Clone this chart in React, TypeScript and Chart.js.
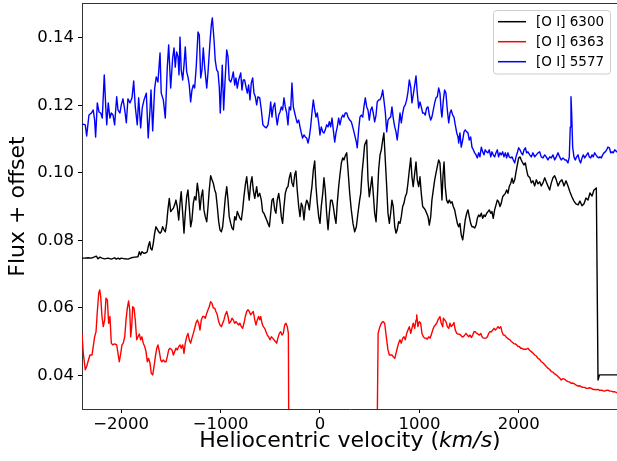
import { useEffect, useRef } from "react";
import { Chart, registerables } from "chart.js";

Chart.register(...registerables);

const FONT = "'DejaVu Sans', sans-serif";

const seriesLabels = ["[O I] 6300", "[O I] 6363", "[O I] 5577"];
const seriesColors = ["#000000", "#ff0000", "#0000ff"];
const xTickValues = [-2000, -1000, 0, 1000, 2000];
const yTickValues = [0.04, 0.06, 0.08, 0.1, 0.12, 0.14];
const xRange = [-2394, 2998];
const yRange = [0.03, 0.15];

// [O I] 6300 (black)
const vel6300 = [
  -2394, -2367, -2334, -2300, -2274, -2250, -2233, -2214, -2193, -2166,
  -2133, -2099, -2066, -2049, -2032, -2015, -1999, -1964, -1932, -1898,
  -1864, -1831, -1817, -1804, -1791, -1770, -1750, -1738, -1724, -1713,
  -1703, -1690, -1677, -1663, -1650, -1637, -1622, -1609, -1597, -1583,
  -1569, -1556, -1542, -1530, -1516, -1502, -1489, -1475, -1462, -1449,
  -1436, -1421, -1408, -1396, -1381, -1368, -1355, -1341, -1328, -1315,
  -1301, -1288, -1274, -1261, -1248, -1234, -1220, -1207, -1194, -1180,
  -1167, -1154, -1139, -1126, -1114, -1100, -1086, -1073, -1059, -1047,
  -1033, -1019, -1006, -992, -979, -966, -953, -938, -925, -913,
  -898, -885, -872, -858, -845, -832, -818, -805, -791, -778,
  -765, -751, -737, -724, -712, -697, -684, -671, -656, -637,
  -624, -606, -590, -577, -564, -550, -536, -523, -509, -496,
  -483, -470, -455, -443, -430, -415, -402, -389, -376, -362,
  -349, -335, -322, -309, -295, -282, -268, -254, -242, -229,
  -214, -201, -188, -175, -161, -148, -134, -120, -107, -94,
  -81, -67, -53, -40, -27, -13, 0, 13, 28, 40,
  53, 67, 81, 94, 107, 121, 134, 148, 161, 174,
  188, 201, 215, 229, 241, 254, 269, 282, 299, 315,
  332, 349, 366, 382, 399, 410, 423, 436, 449, 470,
  483, 496, 510, 523, 536, 550, 564, 576, 590, 604,
  617, 631, 643, 657, 671, 684, 698, 711, 724, 737,
  752, 765, 777, 791, 805, 818, 832, 845, 858, 872,
  885, 899, 913, 925, 938, 953, 966, 979, 993, 1006,
  1019, 1033, 1047, 1059, 1073, 1087, 1100, 1114, 1126, 1140,
  1154, 1167, 1180, 1194, 1207, 1220, 1227, 1238, 1248, 1260,
  1274, 1288, 1301, 1315, 1328, 1341, 1355, 1368, 1382, 1395,
  1408, 1421, 1436, 1449, 1461, 1476, 1489, 1502, 1516, 1529,
  1542, 1556, 1570, 1583, 1596, 1609, 1623, 1637, 1650, 1662,
  1677, 1690, 1703, 1718, 1730, 1743, 1757, 1771, 1784, 1797,
  1811, 1824, 1838, 1851, 1865, 1878, 1891, 1904, 1919, 1932,
  1945, 1959, 1972, 1985, 1999, 2012, 2025, 2039, 2053, 2066,
  2079, 2092, 2112, 2126, 2142, 2160, 2176, 2193, 2210, 2226,
  2243, 2261, 2276, 2293, 2311, 2327, 2344, 2361, 2377, 2395,
  2414, 2434, 2455, 2475, 2495, 2515, 2535, 2555, 2575, 2596,
  2615, 2636, 2656, 2676, 2696, 2716, 2737, 2756, 2771, 2780,
  2797, 2812, 2998,
];
const flux6300 = [
  0.0747, 0.0747, 0.0748, 0.0747, 0.075, 0.0753, 0.0745, 0.075, 0.0747, 0.0745,
  0.0747, 0.0744, 0.0748, 0.0744, 0.0747, 0.0744, 0.0747, 0.0745, 0.0744, 0.0748,
  0.075, 0.0751, 0.0766, 0.0756, 0.0766, 0.0761, 0.0763, 0.0766, 0.0786, 0.0796,
  0.0776, 0.0771, 0.0791, 0.0821, 0.084, 0.0833, 0.0825, 0.0821, 0.0825, 0.084,
  0.0831, 0.0825, 0.085, 0.089, 0.0924, 0.0885, 0.089, 0.0895, 0.0905, 0.0919,
  0.09, 0.086, 0.091, 0.0944, 0.088, 0.0821, 0.088, 0.0929, 0.0949, 0.09,
  0.084, 0.086, 0.091, 0.0929, 0.0919, 0.0969, 0.0939, 0.089, 0.0929, 0.0949,
  0.089, 0.087, 0.0855, 0.09, 0.0949, 0.0991, 0.0979, 0.0969, 0.0949, 0.0939,
  0.09, 0.0855, 0.0831, 0.0825, 0.084, 0.088, 0.0924, 0.0959, 0.0919, 0.087,
  0.085, 0.0836, 0.0831, 0.087, 0.086, 0.0885, 0.0875, 0.0865, 0.086, 0.089,
  0.0929, 0.0964, 0.0988, 0.0949, 0.0919, 0.0969, 0.0988, 0.0949, 0.0924, 0.0959,
  0.0929, 0.0939, 0.0919, 0.0885, 0.088, 0.087, 0.086, 0.085, 0.084, 0.088,
  0.0919, 0.0924, 0.089, 0.088, 0.0919, 0.0939, 0.091, 0.087, 0.085, 0.09,
  0.0939, 0.0954, 0.0959, 0.0985, 0.1, 0.097, 0.0959, 0.0994, 0.1005, 0.0949,
  0.09, 0.087, 0.091, 0.09, 0.086, 0.09, 0.0919, 0.091, 0.089, 0.0929,
  0.0959, 0.1008, 0.1035, 0.0959, 0.091, 0.087, 0.085, 0.09, 0.0939, 0.0985,
  0.0949, 0.088, 0.0831, 0.088, 0.0919, 0.0919, 0.09, 0.087, 0.085, 0.091,
  0.0959, 0.0994, 0.1029, 0.1044, 0.1038, 0.105, 0.1059, 0.1008, 0.0939, 0.089,
  0.085, 0.0825, 0.084, 0.088, 0.0919, 0.0939, 0.0999, 0.1038, 0.1082, 0.1097,
  0.0979, 0.0929, 0.0959, 0.0988, 0.0939, 0.088, 0.0855, 0.0919, 0.1008, 0.1053,
  0.1068, 0.1097, 0.1118, 0.1038, 0.0959, 0.088, 0.085, 0.088, 0.0919, 0.09,
  0.084, 0.0821, 0.0831, 0.0855, 0.085, 0.087, 0.09, 0.091, 0.0929, 0.0939,
  0.0969, 0.1008, 0.1044, 0.0988, 0.0959, 0.0999, 0.1032, 0.0979, 0.0959, 0.0988,
  0.0939, 0.09, 0.0895, 0.089, 0.088, 0.087, 0.0845, 0.087, 0.0919, 0.0949,
  0.0979, 0.0999, 0.1018, 0.1038, 0.1029, 0.0964, 0.0919, 0.0994, 0.1032, 0.0959,
  0.0919, 0.091, 0.0919, 0.091, 0.0914, 0.09, 0.089, 0.087, 0.085, 0.084,
  0.085, 0.0816, 0.0801, 0.0831, 0.086, 0.088, 0.089, 0.087, 0.085, 0.084,
  0.084, 0.0836, 0.0845, 0.0865, 0.0875, 0.087, 0.088, 0.0865, 0.0875, 0.087,
  0.088, 0.0885, 0.089, 0.088, 0.0885, 0.0865, 0.089, 0.0905, 0.0919, 0.0914,
  0.09, 0.091, 0.0929, 0.0934, 0.0939, 0.0949, 0.0939, 0.0959, 0.0969, 0.0984,
  0.0969, 0.0979, 0.1002, 0.1023, 0.1044, 0.1047, 0.1038, 0.1029, 0.1023, 0.1029,
  0.1008, 0.0991, 0.0985, 0.097, 0.0976, 0.0961, 0.0979, 0.0967, 0.0973, 0.0961,
  0.097, 0.0985, 0.0973, 0.0961, 0.0949, 0.097, 0.0985, 0.0991, 0.0979, 0.0961,
  0.0973, 0.0979, 0.0961, 0.0976, 0.0961, 0.0943, 0.0928, 0.0916, 0.0908, 0.0905,
  0.0916, 0.0902, 0.0908, 0.0925, 0.0919, 0.094, 0.0931, 0.0949, 0.0952, 0.0955,
  0.0386, 0.0401, 0.0401,
];

// [O I] 6363 (red)
const vel6363 = [
  -2394, -2381, -2361, -2347, -2334, -2314, -2293, -2281, -2267, -2253,
  -2240, -2226, -2216, -2206, -2193, -2180, -2166, -2153, -2139, -2126,
  -2113, -2099, -2086, -2066, -2045, -2032, -2019, -2004, -1992, -1979,
  -1964, -1951, -1938, -1925, -1914, -1904, -1894, -1884, -1871, -1858,
  -1844, -1831, -1817, -1804, -1791, -1778, -1763, -1750, -1737, -1724,
  -1710, -1697, -1683, -1669, -1656, -1642, -1630, -1616, -1602, -1590,
  -1576, -1562, -1549, -1536, -1522, -1509, -1489, -1475, -1462, -1449,
  -1436, -1421, -1408, -1396, -1381, -1368, -1355, -1341, -1328, -1315,
  -1301, -1288, -1274, -1261, -1248, -1234, -1220, -1207, -1194, -1180,
  -1167, -1154, -1139, -1126, -1114, -1100, -1086, -1073, -1059, -1047,
  -1033, -1019, -1006, -992, -979, -966, -953, -938, -925, -913,
  -898, -885, -872, -858, -845, -832, -818, -805, -791, -778,
  -765, -751, -737, -724, -712, -697, -684, -671, -656, -644,
  -631, -617, -606, -596, -583, -570, -556, -543, -530, -517,
  -503, -489, -476, -462, -449, -436, -423, -409, -395, -382,
  -369, -355, -342, -329, -318, -311, 567, 585, 603, 617,
  634, 651, 667, 684, 698, 711, 724, 737, 752, 765,
  777, 791, 805, 818, 832, 845, 858, 872, 885, 899,
  913, 925, 938, 953, 966, 973, 985, 999, 1013, 1026,
  1040, 1053, 1066, 1079, 1094, 1107, 1119, 1134, 1147, 1160,
  1174, 1187, 1207, 1220, 1235, 1241, 1254, 1267, 1281, 1295,
  1308, 1320, 1335, 1348, 1361, 1376, 1389, 1402, 1416, 1429,
  1442, 1456, 1469, 1483, 1496, 1509, 1523, 1537, 1549, 1562,
  1577, 1590, 1603, 1618, 1630, 1643, 1657, 1671, 1684, 1697,
  1710, 1724, 1738, 1751, 1765, 1779, 1791, 1804, 1819, 1831,
  1844, 1859, 1871, 1884, 1898, 1912, 1925, 1939, 1952, 1965,
  1979, 1992, 2005, 2019, 2032, 2045, 2059, 2072, 2092, 2109,
  2126, 2142, 2160, 2176, 2193, 2210, 2226, 2243, 2261, 2276,
  2293, 2311, 2327, 2344, 2361, 2377, 2395, 2411, 2427, 2445,
  2462, 2477, 2495, 2512, 2528, 2545, 2562, 2578, 2596, 2612,
  2628, 2646, 2663, 2679, 2696, 2712, 2730, 2746, 2763, 2780,
  2797, 2813, 2830, 2847, 2864, 2881, 2897, 2914, 2931, 2948,
  2965, 2982, 2998,
];
const flux6363 = [
  0.0524, 0.0465, 0.0416, 0.0426, 0.044, 0.046, 0.046, 0.0485, 0.0514, 0.0529,
  0.0588, 0.0643, 0.0653, 0.0633, 0.0574, 0.0544, 0.0564, 0.0628, 0.0623, 0.0554,
  0.0574, 0.0495, 0.049, 0.0493, 0.049, 0.0465, 0.044, 0.0465, 0.049, 0.0495,
  0.0514, 0.0564, 0.0599, 0.062, 0.0594, 0.0514, 0.0544, 0.0603, 0.0599, 0.0564,
  0.0505, 0.0514, 0.0522, 0.0505, 0.0514, 0.0495, 0.0485, 0.047, 0.044, 0.045,
  0.0436, 0.0406, 0.0401, 0.0426, 0.0455, 0.048, 0.049, 0.047, 0.0445, 0.044,
  0.0445, 0.044, 0.044, 0.0455, 0.0475, 0.048, 0.0475, 0.046, 0.047, 0.048,
  0.0475, 0.0485, 0.049, 0.048, 0.049, 0.0465, 0.0495, 0.0514, 0.0524, 0.0505,
  0.0495, 0.051, 0.0524, 0.0539, 0.0554, 0.0564, 0.0554, 0.0534, 0.0564, 0.0574,
  0.0574, 0.0569, 0.0584, 0.0594, 0.0603, 0.0618, 0.0613, 0.0599, 0.0599, 0.0589,
  0.0579, 0.0559, 0.0549, 0.0544, 0.0554, 0.0564, 0.0579, 0.0589, 0.0574, 0.0554,
  0.0559, 0.0569, 0.0564, 0.0554, 0.0559, 0.0554, 0.0549, 0.0554, 0.0544, 0.0539,
  0.0554, 0.0574, 0.0589, 0.0594, 0.0589, 0.0579, 0.0584, 0.0589, 0.0564, 0.0549,
  0.0564, 0.0574, 0.0564, 0.0574, 0.0554, 0.0544, 0.0539, 0.0529, 0.0519, 0.0514,
  0.0505, 0.0514, 0.051, 0.0505, 0.05, 0.0495, 0.051, 0.0524, 0.0529, 0.0519,
  0.0524, 0.0549, 0.0554, 0.0544, 0.0524, 0.0, 0.0, 0.0524, 0.0544, 0.0554,
  0.0559, 0.0554, 0.0514, 0.0475, 0.046, 0.046, 0.046, 0.0455, 0.045, 0.0465,
  0.048, 0.0495, 0.0505, 0.0495, 0.051, 0.0514, 0.0505, 0.0524, 0.0534, 0.0544,
  0.0524, 0.0539, 0.0554, 0.0539, 0.0564, 0.0579, 0.0544, 0.0559, 0.0554, 0.0524,
  0.0514, 0.051, 0.051, 0.0507, 0.0514, 0.051, 0.0519, 0.0534, 0.0544, 0.0549,
  0.0554, 0.0564, 0.0574, 0.0554, 0.0544, 0.0569, 0.0564, 0.0559, 0.0544, 0.0539,
  0.0554, 0.0544, 0.0549, 0.0556, 0.0534, 0.0524, 0.0522, 0.0522, 0.0519, 0.0514,
  0.0514, 0.0519, 0.0524, 0.0519, 0.0514, 0.0519, 0.0512, 0.0519, 0.0529, 0.0529,
  0.0524, 0.0522, 0.0519, 0.0524, 0.0514, 0.051, 0.051, 0.051, 0.0514, 0.0524,
  0.0529, 0.0529, 0.0534, 0.0539, 0.0534, 0.0539, 0.0544, 0.0539, 0.0544, 0.0529,
  0.0519, 0.0519, 0.0514, 0.051, 0.0507, 0.0505, 0.05, 0.0497, 0.0493, 0.0493,
  0.049, 0.0485, 0.0485, 0.048, 0.048, 0.0477, 0.0477, 0.0477, 0.048, 0.0474,
  0.047, 0.0466, 0.046, 0.0457, 0.045, 0.0447, 0.044, 0.0437, 0.0431, 0.0426,
  0.0421, 0.0417, 0.0411, 0.0409, 0.0404, 0.0401, 0.0396, 0.0392, 0.0386, 0.039,
  0.0388, 0.0384, 0.0381, 0.038, 0.0376, 0.0377, 0.0374, 0.0371, 0.0368, 0.0369,
  0.0366, 0.0364, 0.0364, 0.0361, 0.0361, 0.0363, 0.0361, 0.0358, 0.0358, 0.0357,
  0.0358, 0.0355, 0.0356, 0.0354, 0.0353, 0.0355, 0.0356, 0.0353, 0.0353, 0.0351,
  0.0351, 0.0349, 0.0348,
];

// [O I] 5577 (blue)
const vel5577 = [
  -2394, -2361, -2347, -2324, -2300, -2281, -2267, -2257, -2240, -2223,
  -2206, -2190, -2170, -2155, -2145, -2130, -2113, -2099, -2082, -2066,
  -2045, -2032, -2012, -1999, -1982, -1964, -1948, -1932, -1911, -1891,
  -1874, -1858, -1838, -1824, -1804, -1788, -1770, -1747, -1728, -1710,
  -1700, -1683, -1663, -1647, -1630, -1609, -1597, -1576, -1556, -1536,
  -1522, -1502, -1482, -1468, -1456, -1442, -1428, -1418, -1408, -1396,
  -1381, -1368, -1355, -1341, -1328, -1315, -1301, -1288, -1274, -1261,
  -1245, -1227, -1214, -1200, -1187, -1174, -1160, -1139, -1126, -1107,
  -1093, -1083, -1066, -1054, -1039, -1026, -1013, -1003, -992, -983,
  -969, -956, -938, -925, -913, -898, -885, -872, -858, -845,
  -832, -818, -797, -785, -772, -758, -744, -731, -718, -704,
  -691, -677, -664, -650, -637, -624, -606, -590, -574, -556,
  -540, -523, -506, -496, -483, -470, -455, -443, -430, -415,
  -402, -389, -376, -362, -349, -335, -322, -309, -295, -282,
  -268, -254, -242, -229, -214, -201, -188, -175, -161, -148,
  -134, -120, -107, -94, -81, -67, -53, -40, -27, -13,
  0, 13, 28, 40, 53, 67, 81, 94, 107, 121,
  134, 148, 161, 174, 188, 201, 215, 229, 241, 254,
  269, 282, 299, 315, 332, 349, 366, 375, 389, 402,
  416, 430, 442, 456, 470, 483, 496, 510, 523, 536,
  550, 564, 576, 590, 604, 617, 631, 643, 657, 671,
  684, 698, 711, 724, 737, 752, 765, 777, 791, 805,
  818, 832, 845, 858, 872, 885, 899, 913, 925, 938,
  953, 966, 979, 993, 1006, 1019, 1033, 1047, 1059, 1073,
  1087, 1100, 1114, 1126, 1140, 1154, 1167, 1180, 1194, 1207,
  1220, 1227, 1241, 1254, 1267, 1281, 1295, 1308, 1320, 1335,
  1348, 1361, 1376, 1389, 1395, 1408, 1421, 1436, 1449, 1461,
  1476, 1489, 1502, 1516, 1529, 1542, 1556, 1570, 1583, 1596,
  1609, 1623, 1637, 1650, 1662, 1677, 1690, 1703, 1718, 1730,
  1743, 1757, 1771, 1784, 1797, 1811, 1824, 1838, 1851, 1865,
  1878, 1891, 1904, 1919, 1932, 1945, 1959, 1972, 1985, 1999,
  2012, 2025, 2039, 2053, 2066, 2079, 2092, 2110, 2126, 2142,
  2160, 2176, 2193, 2210, 2226, 2243, 2261, 2276, 2293, 2311,
  2327, 2344, 2361, 2377, 2395, 2411, 2427, 2445, 2462, 2477,
  2495, 2508, 2518, 2525, 2532, 2542, 2555, 2568, 2582, 2596,
  2609, 2622, 2636, 2649, 2663, 2683, 2696, 2709, 2723, 2737,
  2749, 2763, 2776, 2790, 2804, 2816, 2830, 2844, 2857, 2870,
  2884, 2897, 2911, 2925, 2938, 2951, 2965, 2985, 2998,
];
const flux5577 = [
  0.1145, 0.1142, 0.1109, 0.1171, 0.1177, 0.1186, 0.1156, 0.1106, 0.1207, 0.118,
  0.1177, 0.1162, 0.129, 0.1195, 0.1142, 0.1207, 0.1162, 0.1177, 0.1171, 0.1142,
  0.1225, 0.1186, 0.1177, 0.1201, 0.1219, 0.1186, 0.1148, 0.1219, 0.1207, 0.1222,
  0.1272, 0.1195, 0.1142, 0.1222, 0.1133, 0.1192, 0.1216, 0.1236, 0.1103, 0.1186,
  0.1245, 0.1124, 0.1251, 0.1284, 0.1269, 0.1355, 0.1236, 0.1216, 0.1162, 0.1313,
  0.1379, 0.1251, 0.134, 0.137, 0.1313, 0.1358, 0.1343, 0.129, 0.1402, 0.1305,
  0.1275, 0.1319, 0.1373, 0.1299, 0.1284, 0.126, 0.121, 0.1245, 0.126, 0.1251,
  0.1313, 0.1417, 0.1408, 0.1281, 0.1305, 0.137, 0.1313, 0.1251, 0.1299, 0.1385,
  0.1438, 0.1459, 0.1394, 0.1334, 0.1305, 0.1299, 0.1254, 0.1177, 0.1251, 0.1319,
  0.1186, 0.1266, 0.1364, 0.1343, 0.1275, 0.1269, 0.1281, 0.1299, 0.126, 0.1281,
  0.1251, 0.1275, 0.1296, 0.1245, 0.1275, 0.1275, 0.1254, 0.1236, 0.126, 0.1216,
  0.1266, 0.1281, 0.1236, 0.1225, 0.1201, 0.1225, 0.1222, 0.1186, 0.1142, 0.1136,
  0.1133, 0.1142, 0.1177, 0.121, 0.1165, 0.1195, 0.1207, 0.1171, 0.1142, 0.1171,
  0.118, 0.1195, 0.1186, 0.1222, 0.1195, 0.1177, 0.1142, 0.1195, 0.1186, 0.1266,
  0.1195, 0.1177, 0.1162, 0.1148, 0.1156, 0.1136, 0.1118, 0.1103, 0.1112, 0.1106,
  0.1103, 0.1088, 0.1106, 0.1136, 0.1177, 0.1216, 0.1186, 0.1165, 0.1177, 0.1148,
  0.1112, 0.1136, 0.1121, 0.1118, 0.1127, 0.1142, 0.1136, 0.1151, 0.1136, 0.1162,
  0.1127, 0.1091, 0.1118, 0.1136, 0.1162, 0.1142, 0.1162, 0.1171, 0.1165, 0.1177,
  0.1177, 0.1165, 0.1156, 0.1151, 0.1133, 0.1112, 0.1091, 0.1074, 0.1127, 0.1165,
  0.1171, 0.1165, 0.1195, 0.1222, 0.1195, 0.1186, 0.1156, 0.1186, 0.1195, 0.1177,
  0.1151, 0.1171, 0.121, 0.1216, 0.1216, 0.1225, 0.1245, 0.1216, 0.118, 0.1121,
  0.1156, 0.1162, 0.1165, 0.1195, 0.1162, 0.1136, 0.1121, 0.1097, 0.1136, 0.1177,
  0.1148, 0.1177, 0.1195, 0.1201, 0.1216, 0.1239, 0.1275, 0.1254, 0.1207, 0.123,
  0.126, 0.1287, 0.1236, 0.1192, 0.121, 0.1195, 0.1177, 0.1177, 0.1171, 0.1192,
  0.1195, 0.1171, 0.1156, 0.1165, 0.1186, 0.1207, 0.1222, 0.1225, 0.1251, 0.1236,
  0.118, 0.1165, 0.1216, 0.1245, 0.1236, 0.1186, 0.1148, 0.1177, 0.1186, 0.1171,
  0.1165, 0.1142, 0.1118, 0.1106, 0.1088, 0.1118, 0.1076, 0.1097, 0.1121, 0.1127,
  0.1121, 0.1118, 0.1097, 0.1106, 0.1076, 0.1068, 0.1059, 0.1053, 0.1044, 0.1059,
  0.1047, 0.1076, 0.1062, 0.1053, 0.1068, 0.1062, 0.1059, 0.1068, 0.1047, 0.1062,
  0.1053, 0.1047, 0.1059, 0.1068, 0.1047, 0.1059, 0.1053, 0.1062, 0.1047, 0.1059,
  0.1044, 0.1059, 0.1047, 0.1044, 0.1047, 0.1038, 0.1029, 0.1047, 0.1059, 0.1074,
  0.1068, 0.1059, 0.1053, 0.1068, 0.1074, 0.1059, 0.1062, 0.1053, 0.1047, 0.1059,
  0.1047, 0.1053, 0.1059, 0.1062, 0.1047, 0.1044, 0.1053, 0.1047, 0.1038, 0.1047,
  0.1044, 0.1053, 0.1038, 0.1047, 0.1059, 0.1047, 0.1038, 0.1044, 0.1038, 0.1038,
  0.1029, 0.1047, 0.1136, 0.1225, 0.1177, 0.1076, 0.1047, 0.1038, 0.1047, 0.1053,
  0.1038, 0.1029, 0.1044, 0.1053, 0.1044, 0.1053, 0.1059, 0.1047, 0.1044, 0.1053,
  0.1047, 0.1059, 0.1053, 0.1047, 0.1044, 0.1047, 0.1044, 0.1053, 0.1059, 0.1062,
  0.1068, 0.1076, 0.1074, 0.1059, 0.1062, 0.1059, 0.1068, 0.1062, 0.1065,
];

const seriesVel = [vel6300, vel6363, vel5577];
const seriesFlux = [flux6300, flux6363, flux5577];

function fmtX(v: number) {
  return v < 0 ? "\u2212" + Math.abs(v) : String(v);
}

const decorPlugin = {
  id: "decor",
  afterDraw(chart: any) {
    const { ctx, chartArea: a } = chart;
    ctx.save();
    // top and right spines
    ctx.strokeStyle = "#333";
    ctx.lineWidth = 1;
    ctx.beginPath();
    ctx.moveTo(a.left, a.top - 0.5);
    ctx.lineTo(a.right, a.top - 0.5);
    ctx.lineTo(a.right, a.bottom);
    ctx.stroke();

    // x title with italic unit
    const parts: [string, string][] = [
      ["Heliocentric velocity (", "normal"],
      ["km/s", "italic"],
      [")", "normal"],
    ];
    let total = 0;
    const widths: number[] = [];
    for (const [t, st] of parts) {
      ctx.font = `${st} 22px ${FONT}`;
      const w = ctx.measureText(t).width;
      widths.push(w);
      total += w;
    }
    let x = (a.left + a.right) / 2 - total / 2;
    ctx.fillStyle = "#000";
    ctx.textBaseline = "alphabetic";
    ctx.textAlign = "left";
    parts.forEach(([t, st], i) => {
      ctx.font = `${st} 22px ${FONT}`;
      ctx.fillText(t, x, 447);
      x += widths[i];
    });

    // y title
    ctx.save();
    ctx.translate(24, (a.top + a.bottom) / 2);
    ctx.rotate(-Math.PI / 2);
    ctx.font = `22px ${FONT}`;
    ctx.textAlign = "center";
    ctx.textBaseline = "alphabetic";
    ctx.fillText("Flux + offset", 0, 0);
    ctx.restore();

    // legend
    const bx = 493.5, by = 10.5, bw = 117, bh = 63.5, r = 3;
    ctx.beginPath();
    ctx.moveTo(bx + r, by);
    ctx.lineTo(bx + bw - r, by);
    ctx.quadraticCurveTo(bx + bw, by, bx + bw, by + r);
    ctx.lineTo(bx + bw, by + bh - r);
    ctx.quadraticCurveTo(bx + bw, by + bh, bx + bw - r, by + bh);
    ctx.lineTo(bx + r, by + bh);
    ctx.quadraticCurveTo(bx, by + bh, bx, by + bh - r);
    ctx.lineTo(bx, by + r);
    ctx.quadraticCurveTo(bx, by, bx + r, by);
    ctx.closePath();
    ctx.fillStyle = "rgba(255,255,255,0.8)";
    ctx.fill();
    ctx.strokeStyle = "#cccccc";
    ctx.lineWidth = 1;
    ctx.stroke();
    seriesLabels.forEach((lab, i) => {
      const yy = 21.7 + 20 * i;
      ctx.strokeStyle = seriesColors[i];
      ctx.lineWidth = 1.5;
      ctx.beginPath();
      ctx.moveTo(498, yy);
      ctx.lineTo(526, yy);
      ctx.stroke();
      ctx.fillStyle = "#000";
      ctx.font = `13.5px ${FONT}`;
      ctx.textAlign = "left";
      ctx.textBaseline = "middle";
      ctx.fillText(lab, 536, yy + 0.5);
    });
    ctx.restore();
  },
};

export default function App() {
  const ref = useRef<HTMLCanvasElement>(null);
  useEffect(() => {
    const canvas = ref.current;
    if (!canvas) return;
    const datasets = seriesLabels.map((label, i) => ({
      label,
      data: seriesVel[i].map((v, j) => ({ x: v, y: seriesFlux[i][j] })),
      borderColor: seriesColors[i],
      backgroundColor: seriesColors[i],
      borderWidth: 1.4,
      pointRadius: 0,
      fill: false,
      tension: 0,
      borderJoinStyle: "round" as const,
      order: 3 - i,
    }));
    const chart = new Chart(canvas, {
      type: "line",
      data: { datasets },
      options: {
        animation: false,
        responsive: false,
        devicePixelRatio: 1,
        events: [],
        layout: { padding: { top: 4, right: 2, left: 0, bottom: 0 } },
        plugins: { legend: { display: false }, tooltip: { enabled: false } },
        scales: {
          x: {
            type: "linear",
            min: xRange[0],
            max: xRange[1],
            afterFit: (s: any) => {
              s.height = 52;
              s.paddingLeft = 0;
              s.paddingRight = 0;
            },
            afterBuildTicks: (s: any) => {
              s.ticks = xTickValues.map((v) => ({ value: v }));
            },
            ticks: {
              callback: (v: any) => fmtX(Number(v)),
              font: { family: FONT, size: 16.5 },
              color: "#000",
              padding: 2,
              maxRotation: 0,
              autoSkip: false,
            },
            grid: {
              drawOnChartArea: false,
              drawTicks: true,
              tickLength: 4,
              color: "#000",
              tickColor: "#000",
            },
            border: { display: true, color: "#333", width: 1 },
          },
          y: {
            type: "linear",
            min: yRange[0],
            max: yRange[1],
            afterFit: (s: any) => {
              s.width = 82;
              s.paddingTop = 0;
              s.paddingBottom = 0;
            },
            afterBuildTicks: (s: any) => {
              s.ticks = yTickValues.map((v) => ({ value: v }));
            },
            ticks: {
              callback: (v: any) => Number(v).toFixed(2),
              font: { family: FONT, size: 16.5 },
              color: "#000",
              padding: 4,
            },
            grid: {
              drawOnChartArea: false,
              drawTicks: true,
              tickLength: 4,
              color: "#000",
              tickColor: "#000",
            },
            border: { display: true, color: "#333", width: 1 },
          },
        },
      },
      plugins: [decorPlugin],
    });
    return () => chart.destroy();
  }, []);
  return (
    <div
      style={{
        position: "fixed",
        left: 0,
        top: 0,
        width: 617,
        height: 461,
        overflow: "hidden",
        background: "#fff",
      }}
    >
      <canvas ref={ref} width={620} height={461} style={{ display: "block", width: 620, height: 461 }} />
    </div>
  );
}
